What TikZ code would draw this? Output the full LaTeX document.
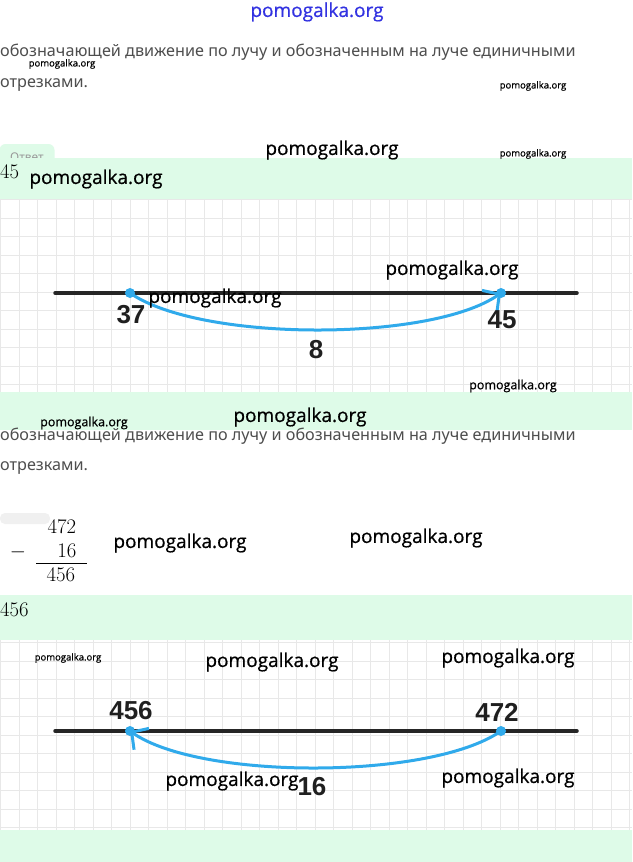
\documentclass[tikz,border=0pt]{standalone}
\usepackage{fontspec}
\newfontfamily\uifont{Noto Sans}
\newfontfamily\wmfont[FakeBold=0.6]{Open Sans}
\newfontfamily\numfont{Liberation Sans}
\usepackage{tikz}
\usetikzlibrary{positioning}
\usetikzlibrary{arrows.meta}

\definecolor{mint}{RGB}{222,251,232}
\definecolor{gridgray}{RGB}{232,232,232}
\definecolor{txtgray}{RGB}{78,78,78}
\definecolor{rayblue}{RGB}{48,170,235}
\definecolor{raydark}{RGB}{38,38,38}
\definecolor{wmblue}{RGB}{50,50,225}

\begin{document}
\begin{tikzpicture}[x=1pt,y=-1pt]
        \tikzstyle{band}=[fill=mint]
        \tikzstyle{gridline}=[draw=gridgray, line width=0.8pt]
        \tikzstyle{ray}=[draw=raydark, line width=3.5pt, line cap=round]
        \tikzstyle{dot}=[circle, fill=rayblue, inner sep=0pt, minimum size=10pt]
        \tikzstyle{jump}=[draw=rayblue, line width=3pt, line cap=round,
            -{Straight Barb[length=12pt,width=26pt]}]
        \tikzstyle{num}=[font=\numfont\bfseries\fontsize{26}{26}\selectfont,
            text=black!88, inner sep=0pt]
        \tikzstyle{task}=[font=\uifont\fontsize{16.2}{16.2}\selectfont,
            text=txtgray, anchor=west, inner sep=0pt]
        \tikzstyle{wm}=[font=\wmfont\fontsize{19}{19}\selectfont, inner sep=0pt]
        \tikzstyle{wmmid}=[font=\wmfont\fontsize{12.5}{12.5}\selectfont, inner sep=0pt]
        \tikzstyle{wmsmall}=[font=\wmfont\fontsize{9.5}{9.5}\selectfont, inner sep=0pt]
        \tikzstyle{answer}=[font=\fontsize{20}{20}\selectfont, inner sep=0pt]

        \useasboundingbox (0,0) rectangle (632,862);
        \fill[white] (0,0) rectangle (632,862);

        % task text, first copy
        \node[wm, text=wmblue] (wmtop) at (317,12) {pomogalka.org};
        \node[task] (task1a) at (0,52)
            {обозначающей движение по лучу и обозначенным на луче единичными};
        \node[task] (task1b) at (0,85) {отрезками.};

        % answer 45
        \node[fill=mint, rounded corners=6pt, minimum width=55pt, minimum height=26pt,
            font=\uifont\fontsize{12}{12}\selectfont, text=gray!80] (chip1) at (27,157) {Ответ};
        \fill[band] (0,158) rectangle (632,200);
        \node[answer, anchor=west] (ans45) at (0,172) {$45$};

        \foreach \x in {0.5,19,...,632}
            \draw[gridline] (\x,200) -- (\x,392);
        \foreach \y in {199.5,218,...,392}
            \draw[gridline] (0,\y) -- (632,\y);
        \fill[band] (0,392) rectangle (632,430);

        \coordinate (r1s) at (55,293);
        \coordinate (r1e) at (577,293);
        \draw[ray] (r1s) -- (r1e);
        \node[dot] (p37) at (130,293) {};
        \node[dot] (p45) at (501,293) {};
        \draw[jump] (p37.center) .. controls +(70,49) and +(-70,49) .. (p45.center);
        \node[num] (n37) at (131,315) {37};
        \node[num] (n45) at (502,320) {45};
        \node[num] (n8) at (316,350) {8};

        % task text, second copy
        \node[task] (task2a) at (0,436)
            {обозначающей движение по лучу и обозначенным на луче единичными};
        \node[task] (task2b) at (0,468) {отрезками.};

        % column subtraction
        \fill[gray!12, rounded corners=5pt] (0,513) rectangle (50,524);
        \node[answer] (m472) at (62,527) {$472$};
        \node[answer] (mminus) at (18,552) {$-$};
        \node[answer] (m16) at (67,551) {$16$};
        \draw[line width=0.6pt] (36,563) -- (87,563);
        \node[answer] (m456) at (61,575) {$456$};

        % answer 456
        \fill[band] (0,595) rectangle (632,640);
        \node[answer, anchor=west] (ans456) at (0,610) {$456$};

        \foreach \x in {0.5,19,...,632}
            \draw[gridline] (\x,640) -- (\x,830);
        \foreach \y in {642.5,661,...,830}
            \draw[gridline] (0,\y) -- (632,\y);
        \fill[band] (0,830) rectangle (632,862);

        \coordinate (r2s) at (55,731);
        \coordinate (r2e) at (577,731);
        \draw[ray] (r2s) -- (r2e);
        \node[dot] (p456) at (130,731) {};
        \node[dot] (p472) at (501,731) {};
        \draw[jump] (p472.center) .. controls +(-70,49) and +(70,49) .. (p456.center);
        \node[num] (n456) at (131,711) {456};
        \node[num] (n472) at (497,712) {472};
        \node[num] (n16) at (312,787) {16};

        % watermarks
        \node[wmsmall] (wm1) at (62,64) {pomogalka.org};
        \node[wmsmall] (wm2) at (533,86) {pomogalka.org};
        \node[wm] (wm3) at (332,150) {pomogalka.org};
        \node[wmsmall] (wm4) at (533,154) {pomogalka.org};
        \node[wm] (wm5) at (96,179) {pomogalka.org};
        \node[wm] (wm6) at (452,270) {pomogalka.org};
        \node[wm] (wm7) at (215,298) {pomogalka.org};
        \node[wmmid] (wm8) at (513,386) {pomogalka.org};
        \node[wmmid] (wm9) at (84,423) {pomogalka.org};
        \node[wm] (wm10) at (300,417) {pomogalka.org};
        \node[wm] (wm11) at (180,543) {pomogalka.org};
        \node[wm] (wm12) at (416,538) {pomogalka.org};
        \node[wmsmall] (wm13) at (68,658) {pomogalka.org};
        \node[wm] (wm14) at (272,662) {pomogalka.org};
        \node[wm] (wm15) at (508,658) {pomogalka.org};
        \node[wm] (wm16) at (232,781) {pomogalka.org};
        \node[wm] (wm17) at (508,778) {pomogalka.org};
\end{tikzpicture}
\end{document}
